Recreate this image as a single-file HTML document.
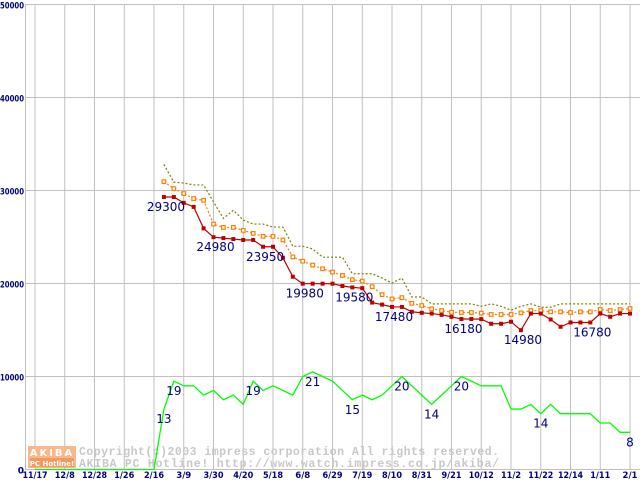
<!DOCTYPE html>
<html><head><meta charset="utf-8"><style>
html,body{margin:0;padding:0;background:#fff;}
svg{display:block;font-family:"DejaVu Sans","Liberation Sans",sans-serif;}
</style></head><body>
<svg id="chart" width="640" height="480" viewBox="0 0 640 480"></svg>
<script>
const xLabels=["11/17","12/8","12/28","1/26","2/16","3/9","3/30","4/20","5/18","6/8","6/29","7/19","8/10","8/31","9/21","10/12","11/2","11/22","12/14","1/11","2/1"];
const yTicks=[0,10000,20000,30000,40000,50000];
const startIndex=13;
const minPrice=[29300,29300,28670,28240,25930,24980,24880,24780,24680,24680,23950,23950,22760,20730,19980,19980,19980,19980,19730,19580,19500,17950,17730,17480,17480,16960,16850,16770,16630,16420,16180,16180,16170,15670,15670,15890,14980,16770,16770,16130,15350,15810,15810,15810,16770,16420,16770,16770];
const avgPrice=[30950,30200,29670,29130,28950,26390,26030,26030,25710,25390,25070,25070,24680,22860,22400,21980,21580,21230,20870,20410,20260,19660,18800,18340,18480,17870,17630,17270,17090,16910,16880,16880,16810,16670,16670,16670,16840,17090,17090,16950,16950,16880,16950,16950,17200,17090,17200,17310];
const maxPrice=[32800,30900,30800,30600,30600,28770,27000,27880,26820,26390,26390,26070,26070,24010,24010,23720,22830,22830,22830,21050,21050,21050,20580,20050,20580,18550,18550,17810,17810,17810,17810,17810,17550,17810,17550,17130,17550,17810,17450,17450,17810,17810,17810,17810,17810,17810,17810,17810];
const shopCount=[13,19,18,18,16,17,15,16,14,19,17,18,17,16,20,21,20,19,17,15,16,15,16,18,20,18,16,14,16,18,20,19,18,18,18,13,13,14,12,14,12,12,12,12,10,10,8,8];
const priceLabels=[[0,"29300"],[5,"24980"],[10,"23950"],[14,"19980"],[19,"19580"],[23,"17480"],[30,"16180"],[36,"14980"],[43,"16780"]];
const countLabels=[[0,"13"],[1,"19"],[9,"19"],[15,"21"],[19,"15"],[24,"20"],[27,"14"],[30,"20"],[38,"14"],[47,"8"]];
const countScale=500;

const NS="http://www.w3.org/2000/svg";
const svg=document.getElementById('chart');
function xs(i){return 35+i*(595/60);}
function ys(v){return 469.5-v*0.00930;}
function mk(tag,attrs,parent){const e=document.createElementNS(NS,tag);for(const k in attrs)e.setAttribute(k,attrs[k]);(parent||svg).appendChild(e);return e;}

const grid=mk('g',{});


yTicks.forEach(v=>{const l=mk('line',{x1:25,x2:640,y1:ys(v),y2:ys(v),stroke:'#c0c0c0','stroke-width':1},grid);

});
xLabels.forEach((t,k)=>{const l=mk('line',{x1:xs(k*3),x2:xs(k*3),y1:4,y2:470,stroke:'#c0c0c0','stroke-width':1},grid);

});
const ax=mk('line',{x1:25.5,x2:25.5,y1:4,y2:470,stroke:'#c0c0c0'});



const wm=mk('g',{});


mk('rect',{x:28,y:446,width:48,height:22,fill:'#f9b88a'},wm);
mk('rect',{x:30,y:458,width:44,height:9,fill:'#f59a5e'},wm);
const wt1=mk('text',{x:52,y:456,'font-size':10,'font-weight':'bold',fill:'#fff','text-anchor':'middle','letter-spacing':2},wm);wt1.textContent='AKIBA';
const wt2=mk('text',{x:52,y:466,'font-size':7,'font-weight':'bold',fill:'#fff','text-anchor':'middle'},wm);wt2.textContent='PC Hotline!';
const wt3=mk('text',{x:79,y:455,'font-size':11.5,'font-weight':'bold',fill:'#c8c8c8','font-family':'"Liberation Mono",monospace',textLength:420,lengthAdjust:'spacing'},wm);wt3.textContent='Copyright(c)2003 impress corporation All rights reserved.';
const wt4=mk('text',{x:79,y:467,'font-size':11.5,'font-weight':'bold',fill:'#c8c8c8','font-family':'"Liberation Mono",monospace',textLength:420,lengthAdjust:'spacing'},wm);wt4.textContent='AKIBA PC Hotline!  http://www.watch.impress.co.jp/akiba/';

yTicks.forEach(v=>{const s=String(v);const a={x:24,y:ys(v)+4,'font-size':9,'font-weight':'bold',fill:'#000080','text-anchor':'end'};
if(s.length>1){a.textLength=s.length*4.8;a.lengthAdjust='spacingAndGlyphs';}
const t=mk('text',a);


t.textContent=s;});
xLabels.forEach((s,k)=>{const t=mk('text',{x:xs(k*3),y:478,'font-size':9,'font-weight':'bold',fill:'#000080','text-anchor':'middle',textLength:s.length*5,lengthAdjust:'spacingAndGlyphs'});


t.textContent=s;});

function pts(arr,scale){return arr.map((v,i)=>xs(startIndex+i)+','+ys(v*(scale||1))).join(' ');}

const cg=mk('polyline',{points:xs(0)+','+ys(0)+' '+xs(startIndex-1)+','+ys(0)+' '+pts(shopCount,countScale),fill:'none',stroke:'#00ff00','stroke-width':1.3});



const ol=mk('polyline',{points:pts(maxPrice),fill:'none',stroke:'#808000','stroke-width':1.2,'stroke-dasharray':'2,2'});


const or=mk('polyline',{points:pts(avgPrice),fill:'none',stroke:'#ff8000','stroke-width':1.2,'stroke-dasharray':'2,2'});


avgPrice.forEach((v,i)=>{const r=mk('rect',{x:xs(startIndex+i)-1.8,y:ys(v)-1.8,width:3.6,height:3.6,fill:'#fff',stroke:'#ff8000','stroke-width':1.2});

});
const rl=mk('polyline',{points:pts(minPrice),fill:'none',stroke:'#c00000','stroke-width':1.2});


minPrice.forEach((v,i)=>{const r=mk('rect',{x:xs(startIndex+i)-2,y:ys(v)-2,width:4,height:4,fill:'#c00000'});

});

priceLabels.forEach(([i,s])=>{const t=mk('text',{x:xs(startIndex+i)+2,y:ys(minPrice[i])+14,'font-size':12,fill:'#000080','text-anchor':'middle'});


t.textContent=s;});
countLabels.forEach(([i,s])=>{const t=mk('text',{x:xs(startIndex+i),y:ys(shopCount[i]*countScale)+14,'font-size':12,fill:'#000080','text-anchor':'middle'});


t.textContent=s;});
</script>
</body></html>
